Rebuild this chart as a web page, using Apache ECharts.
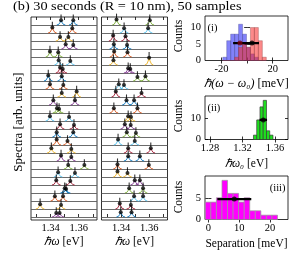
<!DOCTYPE html>
<html><head><meta charset="utf-8">
<script src="https://cdn.jsdelivr.net/npm/echarts@6/dist/echarts.min.js"></script>
<style>html,body{margin:0;padding:0;background:#fff}#c{width:293px;height:254px}</style>
</head><body><div id="c"></div>
<script>
// ---------- data ----------
const spectraTickValues = [1.33, 1.34, 1.35, 1.36, 1.37];
const spectraLabelValues = [1.34, 1.36];
// panel A (samples 1-25, top to bottom): fitted peak energies [eV] and peak heights [row units]
const lowerPeakA = [1.3474,1.3412,1.3467,1.3507,1.3395,1.3457,1.3467,1.3383,1.3395,1.3479,1.3419,1.3445,1.3395,1.3467,1.3443,1.3443,1.3405,1.3474,1.3525,1.3453,1.3440,1.3500,1.3430,1.3325,1.3440];
const upperPeakA = [1.3561,1.3554,1.3526,1.3561,1.3454,1.3540,1.3486,1.3479,1.3490,1.3585,1.3573,1.3460,1.3531,1.3566,1.3561,1.3520,1.3547,1.3547,1.3640,1.3573,1.3540,1.3510,1.3488,1.3474,1.3464];
const lowerHeightA = [0.6,0.7,0.5,0.6,0.7,0.6,0.7,0.7,0.6,0.5,0.6,0.6,0.6,0.6,0.6,0.7,0.6,0.7,0.5,0.6,0.6,0.6,0.6,0.6,0.5];
const upperHeightA = [0.6,0.6,0.5,0.5,0.6,0.5,0.5,0.6,0.5,0.7,0.6,0.5,0.5,0.5,0.6,0.5,0.5,0.5,0.5,0.5,0.5,0.5,0.6,0.5,0.5];
// panel B (samples 26-50)
const lowerPeakB = [1.3367,1.3421,1.3343,1.3348,1.3350,1.3345,1.3450,1.3516,1.3383,1.3362,1.3438,1.3348,1.3450,1.3426,1.3440,1.3378,1.3450,1.3450,1.3374,1.3374,1.3497,1.3457,1.3492,1.3390,1.3397];
const upperPeakB = [1.3604,1.3592,1.3431,1.3442,1.3445,1.3599,1.3465,1.3573,1.3420,1.3545,1.3492,1.3516,1.3470,1.3468,1.3505,1.3497,1.3611,1.3533,1.3597,1.3445,1.3533,1.3556,1.3556,1.3469,1.3474];
const lowerHeightB = [0.7,0.6,0.7,0.6,0.7,0.6,0.6,0.5,0.6,0.7,0.6,0.6,0.6,0.6,0.6,0.7,0.6,0.6,0.6,0.7,0.6,0.6,0.6,0.7,0.6];
const upperHeightB = [0.6,0.6,0.6,0.5,0.6,0.9,0.5,0.6,0.5,0.5,0.6,0.6,0.5,0.5,0.5,0.5,0.6,0.6,0.5,0.5,0.6,0.6,0.6,0.5,0.6];

// (i) deviation from centre, hbar(w-w0) [meV]
const deviationEdges = [-19.1,-16.0,-12.9,-9.8,-6.7,-3.6,-0.5,2.6,5.7,8.8,11.9,15.0];
const lowerDevCounts = [1,6,8,8,11,8,4,2,1,0,0];
const upperDevCounts = [0,0,0,1,4,5,4,10,10,6,1];
const lowerDevMean = -5.6, lowerDevStd = 5.4;
const upperDevMean = 3.8, upperDevStd = 5.5;
const devMarkerCount = 5.3;
const devLabelValues = [-20, 20];
const devTickValues = [-20, 0, 20];

// (ii) centre energy hbar w0 [eV]
const centerEdges = [1.3335,1.3375,1.3415,1.3455,1.3495,1.3535,1.3575];
const centerCounts = [2,9,15,18,4,2];
const centerMean = 1.3456, centerStd = 0.0046;
const centerMarkerCount = 9;
const centerLabelValues = [1.28, 1.32, 1.36];

// (iii) separation [meV]
const sepEdges = [-1.0,0.8,2.6,4.4,6.2,8.0,9.8,11.6,13.4,15.2,17.0,18.8,20.6,22.4];
const sepCounts = [4,4,5,9,6,6,4,5,2,2,1,1,1];
const sepMean = 8.4, sepStd = 5.5;
const sepMarkerCount = 4.7;
const sepLabelValues = [0, 10, 20];

// ---------- styling / build ----------
const FONT = 'Liberation Serif';
const lineColors = ['#0072BD','#D95319','#EDB120','#7E2F8E','#77AC30','#4DBEEE','#A2142F'];
const E_MIN = 1.326, E_MAX = 1.373, HALF = 0.0017;
const NROW = 25;

function bumpCoords(p, h, base){
  return [[p-HALF*1.8, base],[p-HALF, base+h*0.12],[p-HALF*0.4, base+h*0.55],[p, base+h],[p+HALF*0.4, base+h*0.55],[p+HALF, base+h*0.12],[p+HALF*1.8, base]];
}
function panelSeries(gi, lo, hi, hl, hh, colorStart){
  const spectra = [], base = [], dots = [];
  for (let r=0;r<NROW;r++){
    const b = NROW-1-r;
    const col = lineColors[(colorStart+r)%7];
    spectra.push({coords: bumpCoords(lo[r],hl[r],b), lineStyle:{color: col}});
    spectra.push({coords: bumpCoords(hi[r],hh[r],b), lineStyle:{color: col}});
    base.push({coords: [[E_MIN,b],[E_MAX,b]]});
    dots.push([lo[r], b+hl[r]], [hi[r], b+hh[r]]);
  }
  return [
    {type:'lines', coordinateSystem:'cartesian2d', xAxisIndex:gi, yAxisIndex:gi, silent:true, z:2,
     lineStyle:{width:0.9, color:'#5a5a5a', opacity:1}, data: base},
    {type:'lines', coordinateSystem:'cartesian2d', xAxisIndex:gi, yAxisIndex:gi, polyline:true, silent:true, z:3,
     lineStyle:{width:0.9, opacity:1}, data: spectra},
    {type:'scatter', xAxisIndex:gi, yAxisIndex:gi, symbol:'rect', symbolSize:[1.1,4.5], symbolOffset:[0,-3.5], z:4,
     itemStyle:{color:'#000'}, data: dots},
    {type:'scatter', xAxisIndex:gi, yAxisIndex:gi, symbol:'circle', symbolSize:4, z:5,
     itemStyle:{color:'#000'}, data: dots}
  ];
}
function histSeries(gi, edges, counts, fill, stroke, z){
  return {type:'custom', xAxisIndex:gi, yAxisIndex:gi, z,
    data: counts.map((c,i)=>[edges[i], edges[i+1], c]),
    renderItem(params, api){
      const p0 = api.coord([api.value(0), 0]);
      const p1 = api.coord([api.value(1), api.value(2)]);
      return {type:'rect', shape:{x:p0[0], y:p1[1], width:p1[0]-p0[0], height:p0[1]-p1[1]},
              style:{fill, stroke, lineWidth:0.7}};
    }};
}
function errSeries(gi, mean, std, y, dotColor){
  return [
    {type:'line', xAxisIndex:gi, yAxisIndex:gi, symbol:'none', z:10, lineStyle:{color:'#000', width:2.2},
     data:[[mean-std,y],[mean+std,y]]},
    {type:'scatter', xAxisIndex:gi, yAxisIndex:gi, symbol:'circle', symbolSize:5, z:11,
     itemStyle:{color:dotColor}, data:[[mean,y]]}
  ];
}

const grids = [
  {left:31, top:17, width:66, height:203},
  {left:101.5, top:17, width:66, height:203},
  {left:205, top:16, width:83, height:44.5},
  {left:205, top:96, width:83, height:43.5},
  {left:205, top:176, width:83, height:43.5}
].map(g => Object.assign(g, {show:true, borderColor:'#000', borderWidth:0.8, backgroundColor:'transparent'}));

const lbl = {fontFamily:FONT, fontSize:10.5, color:'#000', margin:3};
function xAx(gi, min, max, ticks, labels, pos){
  const top = pos === 'top';
  return {type:'value', gridIndex:gi, min, max, position: pos || 'bottom',
    axisLine:{show:false}, splitLine:{show:false},
    axisTick:{show:true, inside:true, length:3, lineStyle:{color:'#000', width:0.8}, customValues: ticks},
    axisLabel: top ? {show:false} : Object.assign({customValues: labels}, lbl)};
}
function yAx(gi, min, max, ticks, labels, pos, show){
  const right = pos === 'right';
  return {type:'value', gridIndex:gi, min, max, position: pos || 'left', show: show !== false,
    axisLine:{show:false}, splitLine:{show:false},
    axisTick:{show:true, inside:true, length:3, lineStyle:{color:'#000', width:0.8}, customValues: ticks},
    axisLabel: right ? {show:false} : Object.assign({customValues: labels}, lbl, {margin:4})};
}

const xAxes = [
  xAx(0, E_MIN, E_MAX, spectraTickValues, spectraLabelValues),
  xAx(1, E_MIN, E_MAX, spectraTickValues, spectraLabelValues),
  xAx(2, -33, 32, devTickValues, devLabelValues),
  xAx(3, 1.2738, 1.376, centerLabelValues, centerLabelValues),
  xAx(4, -1.1, 25.8, sepLabelValues, sepLabelValues),
  xAx(0, E_MIN, E_MAX, spectraTickValues, [], 'top'),
  xAx(1, E_MIN, E_MAX, spectraTickValues, [], 'top'),
  xAx(2, -33, 32, devTickValues, [], 'top'),
  xAx(3, 1.2738, 1.376, centerLabelValues, [], 'top'),
  xAx(4, -1.1, 25.8, sepLabelValues, [], 'top')
];
const yAxes = [
  yAx(0, -0.375, 25, [], [], 'left', false),
  yAx(1, -0.375, 25, [], [], 'left', false),
  yAx(2, 0, 13.5, [0,5,10], [0,5,10]),
  yAx(3, 0, 20, [0,10], [0,10]),
  yAx(4, 0, 10, [0,5], [0,5]),
  yAx(2, 0, 13.5, [0,5,10], [], 'right'),
  yAx(3, 0, 20, [0,10], [], 'right'),
  yAx(4, 0, 10, [0,5], [], 'right')
];

const series = [].concat(
  panelSeries(0, lowerPeakA, upperPeakA, lowerHeightA, upperHeightA, 0),
  panelSeries(1, lowerPeakB, upperPeakB, lowerHeightB, upperHeightB, 4),
  [histSeries(2, deviationEdges, lowerDevCounts, 'rgba(40,40,245,0.58)', 'rgba(70,70,140,0.5)', 2),
   histSeries(2, deviationEdges, upperDevCounts, 'rgba(250,40,40,0.55)', 'rgba(140,60,60,0.5)', 3)],
  errSeries(2, lowerDevMean, lowerDevStd, devMarkerCount, '#7a0010'),
  errSeries(2, upperDevMean, upperDevStd, devMarkerCount, '#000'),
  [histSeries(3, centerEdges, centerCounts, '#1ee01e', '#3a3a3a', 2)],
  errSeries(3, centerMean, centerStd, centerMarkerCount, '#000'),
  [histSeries(4, sepEdges, sepCounts, '#ff00ff', '#9a9a9a', 2)],
  errSeries(4, sepMean, sepStd, sepMarkerCount, '#000')
);

function txt(x, y, text, opts){
  const fs = (opts && opts.style && opts.style.fontSize) || 11.5;
  return Object.assign({type:'text', x, y, silent:true,
    style: Object.assign({text, fontFamily:FONT, fontSize:fs, fill:'#000', align:'center', verticalAlign:'middle',
      rich:{i:{fontStyle:'italic', fontFamily:FONT, fontSize:fs}}}, (opts && opts.style) || {})},
    (opts && opts.el) || {});
}
const graphic = [
  txt(13, 6.5, '(b) 30 seconds (R = 10 nm), 50 samples', {style:{align:'left', fontSize:13}, el:{scaleX:1.1}}),
  txt(18.5, 122, 'Spectra [arb. units]', {style:{fontSize:13}, el:{rotation:Math.PI/2}}),
  txt(64, 242, '{i|ℏω} [eV]'),
  txt(134.5, 242, '{i|ℏω} [eV]'),
  txt(179, 36, 'Counts', {el:{rotation:Math.PI/2}}),
  txt(179, 116, 'Counts', {el:{rotation:Math.PI/2}}),
  txt(179, 197, 'Counts', {el:{rotation:Math.PI/2}}),
  txt(246.5, 84, '{i|ℏ(ω − ω₀)} [meV]', {style:{fontSize:12}}),
  txt(246.5, 164, '{i|ℏω₀} [eV]'),
  txt(246.5, 244, 'Separation [meV]'),
  txt(207.5, 28, '(i)', {style:{align:'left', fontSize:10.5}}),
  txt(207.5, 108, '(ii)', {style:{align:'left', fontSize:10.5}}),
  txt(285.5, 188, '(iii)', {style:{align:'right', fontSize:10.5}})
];

const chart = echarts.init(document.getElementById('c'), null, {renderer:'canvas'});
chart.setOption({animation:false, backgroundColor:'#fff', grid:grids, xAxis:xAxes, yAxis:yAxes, series, graphic});
</script></body></html>
